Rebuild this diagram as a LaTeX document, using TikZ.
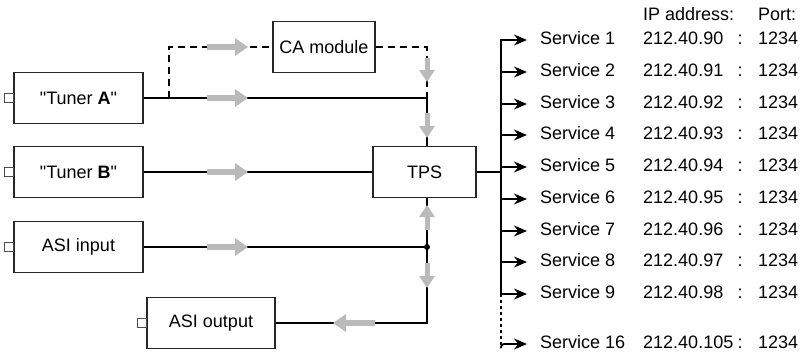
\documentclass[tikz,border=0pt]{standalone}
\usepackage{fontspec}
\setmainfont{Liberation Sans}[Ligatures=TeXOff]
\usetikzlibrary{arrows.meta}
\begin{document}
\begin{tikzpicture}[x=1pt,y=-1pt,
  font=\fontsize{18}{21}\selectfont,
  box/.style={draw=black!85, line width=1.2pt, minimum height=51pt, inner sep=0pt},
  port/.style={draw=black!70, line width=0.9pt, minimum size=9pt, inner sep=0pt},
  wire/.style={line width=1.6pt},
  dashwire/.style={line width=1.3pt, dash pattern=on 7pt off 5pt},
  gar/.style={line width=6pt, draw=black!27, -{Triangle[length=13pt,width=17pt]}},
  vgar/.style={line width=5pt, draw=black!27, -{Triangle[length=12pt,width=15pt]}},
  svcarrow/.style={line width=1.8pt, -{Stealth[length=13pt,width=11pt]}, shorten >=13pt},
  svc/.style={anchor=west, inner sep=0pt, text height=13pt, text depth=4pt},
  colon/.style={inner sep=0pt, text height=13pt, text depth=4pt}
]
\useasboundingbox[fill=white] (0,0) rectangle (802,354);

% boxes
\node[box, minimum width=129pt] (tA) at (78.5,98) {"Tuner \textbf{A}"};
\node[box, minimum width=129pt] (tB) at (78.5,172) {"Tuner \textbf{B}"};
\node[box, minimum width=129pt] (ain) at (78.5,247) {ASI input};
\node[box, minimum width=128pt] (aout) at (211,323) {ASI output};
\node[box, minimum width=102pt] (ca) at (324,47) {CA module};
\node[box, minimum width=103pt] (tps) at (424.5,172) {TPS};

% ports
\node[port, anchor=east] (pA) at (tA.west) {};
\node[port, anchor=east] (pB) at (tB.west) {};
\node[port, anchor=east] (pin) at (ain.west) {};
\node[port, anchor=east] (pout) at (aout.west) {};

% junction coordinates
\coordinate (ja) at (427,98);
\coordinate (da) at (169,98);
\coordinate (jd) at (427,247);
\coordinate (bus) at (501,172);

% wires
\draw[wire] (tA.east) -- (ja) -- (ja |- tps.north);
\draw[dashwire] (da) |- (ca.west);
\draw[dashwire] (ca.east) -| (ja);
\draw[wire] (tB.east) -- (tps.west);
\draw[wire] (ain.east) -- (jd);
\draw[wire] (jd |- tps.south) -- (jd) |- (aout.east);
\fill (jd) circle (3pt);
\draw[wire, line width=1.8pt] (tps.east) -- (bus);

% grey flow arrows
\draw[gar] (207,47) -- (248,47);
\draw[gar] (207,98) -- (248,98);
\draw[gar] (207,172) -- (248,172);
\draw[gar] (207,247) -- (248,247);
\draw[gar] (375,323) -- (333,323);
\draw[vgar] (427,58) -- (427,82);
\draw[vgar] (427,113) -- (427,138);
\draw[vgar] (427,230) -- (427,205);
\draw[vgar] (427,263) -- (427,288);

% header
\node[svc] (iphdr) at (643,16) {IP address:};
\node[svc] (porthdr) at (758,16) {Port:};

% services
\foreach \i/\ip [count=\k from 0] in {1/90,2/91,3/92,4/93,5/94,6/95,7/96,8/97,9/98}{
  \pgfmathsetmacro\yy{round(40+31.75*\k)}
  \coordinate (b\i) at (501,\yy);
  \node[svc] (s\i) at (540,\yy) {Service \i};
  \node[svc] (ip\i) at (643,\yy) {212.40.\ip};
  \node[colon] (c\i) at (740,\yy) {:};
  \node[svc] (pt\i) at (758,\yy) {1234};
  \draw[svcarrow] (b\i) -- (s\i.west);
}
\draw[line width=1.8pt, line cap=rect] (b1) -- (b9);

\coordinate (b16) at (501,344);
\node[svc] (s16) at (540,344) {Service 16};
\node[svc] (ip16) at (643,344) {212.40.105};
\node[colon] (c16) at (740,344) {:};
\node[svc] (pt16) at (758,344) {1234};
\draw[line width=1.3pt, dash pattern=on 3pt off 3pt] (b9) -- ([yshift=-4pt]b16);
\draw[svcarrow, rounded corners=3pt] ([yshift=-4pt]b16) |- (s16.west);
\end{tikzpicture}
\end{document}
